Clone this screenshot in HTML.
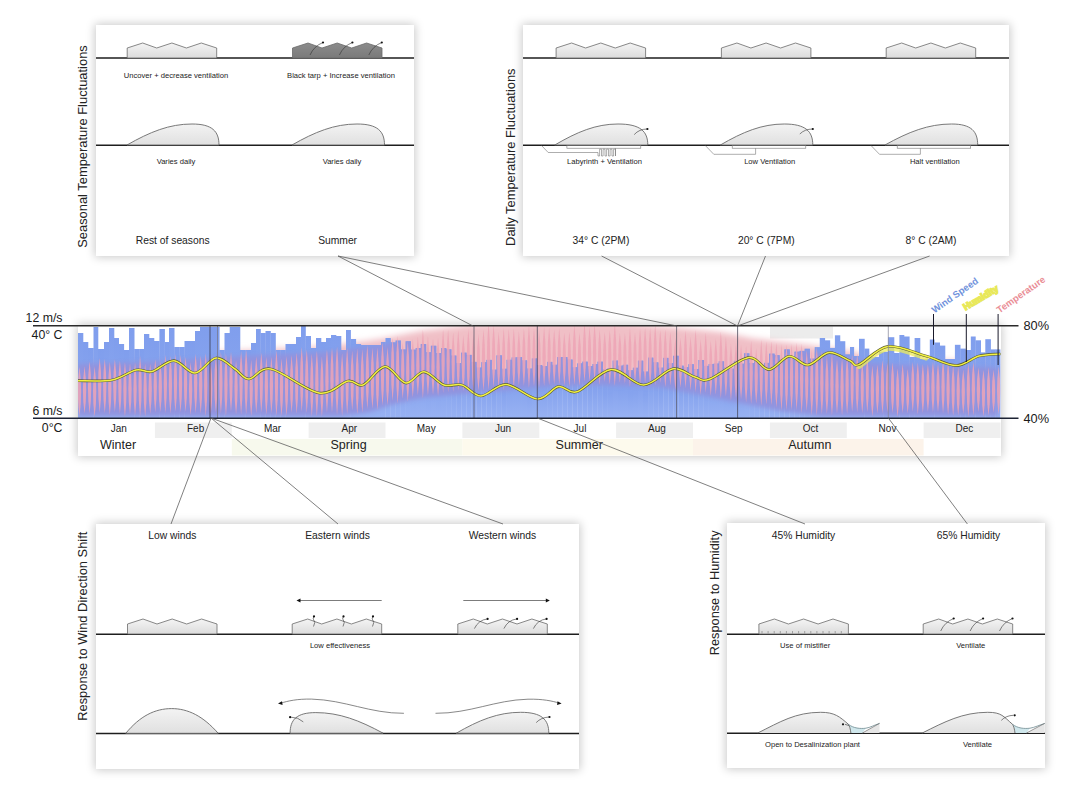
<!DOCTYPE html>
<html><head><meta charset="utf-8"><title>Greenhouse climate response diagram</title>
<style>
html,body{margin:0;padding:0;background:#fff;}
body{width:1081px;height:790px;position:relative;overflow:hidden;font-family:"Liberation Sans", Arial, sans-serif;}
.p{position:absolute;background:#fff;box-shadow:0 0 9px 1px rgba(0,0,0,0.22);}
svg{position:absolute;left:0;top:0;}
svg text{font-family:"Liberation Sans", Arial, sans-serif;}
</style></head><body>
<div class="p" style="left:96px;top:25px;width:318px;height:231px"></div><div class="p" style="left:523px;top:25px;width:486px;height:231px"></div><div class="p" style="left:78px;top:325px;width:923px;height:131px"></div><div class="p" style="left:96px;top:524px;width:483px;height:245px"></div><div class="p" style="left:727px;top:523px;width:318px;height:245px"></div>
<svg width="1081" height="790" viewBox="0 0 1081 790">
<defs>
<linearGradient id="ghl" x1="0" y1="0" x2="0" y2="1"><stop offset="0" stop-color="#f4f4f4"/><stop offset="1" stop-color="#dcdcdc"/></linearGradient>
<linearGradient id="ghd" x1="0" y1="0" x2="0" y2="1"><stop offset="0" stop-color="#8c8c8c"/><stop offset="1" stop-color="#7a7a7a"/></linearGradient>
<linearGradient id="dome" x1="0" y1="0" x2="0" y2="1"><stop offset="0" stop-color="#f3f3f3"/><stop offset="1" stop-color="#e0e0e0"/></linearGradient>
</defs>
<line x1="96" y1="58" x2="414" y2="58" stroke="#1e1e1e" stroke-width="1.5"/>
<path d="M127.2,58.0 L127.2,48.0 L142.7,43.0 L156.7,48.0 L171.9,43.0 L186.4,48.0 L201.3,43.0 L216.7,48.0 L216.7,58.0 Z" fill="url(#ghl)" stroke="#6a6a6a" stroke-width="0.8"/>
<path d="M292.5,58.0 L292.5,48.0 L308.0,43.0 L322.0,48.0 L337.2,43.0 L351.7,48.0 L366.6,43.0 L382.0,48.0 L382.0,58.0 Z" fill="url(#ghd)" stroke="#6a6a6a" stroke-width="0.8"/>
<path d="M310.0,55.0 Q314.0,46.0 323.0,42.5" fill="none" stroke="#333" stroke-width="0.6"/>
<circle cx="323.0" cy="42.5" r="1.1" fill="#111"/>
<path d="M339.4,55.0 Q343.4,46.0 352.4,42.5" fill="none" stroke="#333" stroke-width="0.6"/>
<circle cx="352.4" cy="42.5" r="1.1" fill="#111"/>
<path d="M368.8,55.0 Q372.8,46.0 381.8,42.5" fill="none" stroke="#333" stroke-width="0.6"/>
<circle cx="381.8" cy="42.5" r="1.1" fill="#111"/>
<text x="176.0" y="77.7" font-size="7.6" text-anchor="middle" fill="#222" >Uncover + decrease ventilation</text>
<text x="341.0" y="77.7" font-size="7.6" text-anchor="middle" fill="#222" >Black tarp + Increase ventilation</text>
<line x1="96" y1="145.2" x2="414" y2="145.2" stroke="#1e1e1e" stroke-width="1.5"/>
<path d="M127.0,145 C149.8,132.0 169.2,124.0 192.0,124.0 C212.2,124.0 219.0,131.3 219.0,145 Z" fill="url(#dome)" stroke="#6a6a6a" stroke-width="0.9"/>
<path d="M292.0,145 C314.8,132.0 334.2,124.0 357.0,124.0 C377.6,124.0 384.5,131.3 384.5,145 Z" fill="url(#dome)" stroke="#6a6a6a" stroke-width="0.9"/>
<text x="176.0" y="164.4" font-size="7.6" text-anchor="middle" fill="#222" >Varies daily</text>
<text x="342.0" y="164.4" font-size="7.6" text-anchor="middle" fill="#222" >Varies daily</text>
<text x="172.7" y="244.2" font-size="10.3" text-anchor="middle" fill="#222" >Rest of seasons</text>
<text x="337.6" y="244.2" font-size="10.3" text-anchor="middle" fill="#222" >Summer</text>
<line x1="523" y1="58" x2="1009" y2="58" stroke="#1e1e1e" stroke-width="1.5"/>
<path d="M556.1,58.0 L556.1,48.0 L571.6,43.0 L585.6,48.0 L600.8,43.0 L615.3,48.0 L630.2,43.0 L645.6,48.0 L645.6,58.0 Z" fill="url(#ghl)" stroke="#6a6a6a" stroke-width="0.8"/>
<path d="M721.4,58.0 L721.4,48.0 L736.9,43.0 L750.9,48.0 L766.1,43.0 L780.6,48.0 L795.5,43.0 L810.9,48.0 L810.9,58.0 Z" fill="url(#ghl)" stroke="#6a6a6a" stroke-width="0.8"/>
<path d="M886.2,58.0 L886.2,48.0 L901.7,43.0 L915.7,48.0 L930.9,43.0 L945.4,48.0 L960.3,43.0 L975.7,48.0 L975.7,58.0 Z" fill="url(#ghl)" stroke="#6a6a6a" stroke-width="0.8"/>
<line x1="523" y1="145.2" x2="1009" y2="145.2" stroke="#1e1e1e" stroke-width="1.5"/>
<path d="M554.8,145 C576.9,132.0 595.9,124.0 618.0,124.0 C640.3,124.0 647.8,131.3 647.8,145 Z" fill="url(#dome)" stroke="#6a6a6a" stroke-width="0.9"/>
<path d="M720.4,145 C742.7,132.0 761.9,124.0 784.2,124.0 C805.6,124.0 812.8,131.3 812.8,145 Z" fill="url(#dome)" stroke="#6a6a6a" stroke-width="0.9"/>
<path d="M885.0,145 C908.3,132.0 928.3,124.0 951.6,124.0 C971.2,124.0 977.7,131.3 977.7,145 Z" fill="url(#dome)" stroke="#6a6a6a" stroke-width="0.9"/>
<rect x="566.9" y="145.6" width="73.9" height="2.6" fill="none" stroke="#777" stroke-width="0.6"/>
<path d="M541.6,145.6 L548.2,152.5 L598,152.5 L598,156 L599.6,156 L599.6,149.2 L601.5,149.2 L601.5,156 L603.1,156 L603.1,149.2 L605.0,149.2 L605.0,156 L606.6,156 L606.6,149.2 L608.5,149.2 L608.5,156 L610.1,156 L610.1,149.2 L612.0,149.2 L612.0,156 L613.6,156 L613.6,149.2 L615.5,149.2 L615.5,156 L615.5,148.2" fill="none" stroke="#777" stroke-width="0.6"/>
<rect x="732.2" y="145.6" width="73.6" height="2.6" fill="none" stroke="#777" stroke-width="0.6"/>
<path d="M705.4,145.6 L713.8,154.3 L755.6,154.3 L755.6,148.2" fill="none" stroke="#777" stroke-width="0.6"/>
<rect x="897.2" y="145.6" width="73.5" height="2.6" fill="none" stroke="#777" stroke-width="0.6"/>
<path d="M871.1,145.6 L879.5,154.3 L920.4,154.3 L920.4,148.2" fill="none" stroke="#777" stroke-width="0.6"/>
<path d="M634.2,134.6 Q639.2,129 647.4,129" fill="none" stroke="#333" stroke-width="0.6"/>
<circle cx="647.4" cy="129.0" r="1.1" fill="#111"/>
<path d="M799.8,134 Q804.8,129 812.8,129" fill="none" stroke="#333" stroke-width="0.6"/>
<circle cx="812.8" cy="129.0" r="1.1" fill="#111"/>
<text x="604.5" y="164.4" font-size="7.6" text-anchor="middle" fill="#222" >Labyrinth + Ventilation</text>
<text x="769.7" y="164.4" font-size="7.6" text-anchor="middle" fill="#222" >Low Ventilation</text>
<text x="934.8" y="164.4" font-size="7.6" text-anchor="middle" fill="#222" >Halt ventilation</text>
<text x="601.0" y="243.9" font-size="10.3" text-anchor="middle" fill="#222" >34° C (2PM)</text>
<text x="766.3" y="243.9" font-size="10.3" text-anchor="middle" fill="#222" >20° C (7PM)</text>
<text x="931.0" y="243.9" font-size="10.3" text-anchor="middle" fill="#222" >8° C (2AM)</text>
<text x="172.4" y="538.7" font-size="10.3" text-anchor="middle" fill="#222" >Low winds</text>
<text x="337.5" y="538.7" font-size="10.3" text-anchor="middle" fill="#222" >Eastern winds</text>
<text x="502.5" y="538.7" font-size="10.3" text-anchor="middle" fill="#222" >Western winds</text>
<line x1="96" y1="634.2" x2="579" y2="634.2" stroke="#1e1e1e" stroke-width="1.5"/>
<path d="M127.5,634.0 L127.5,624.0 L143.0,619.0 L157.0,624.0 L172.2,619.0 L186.7,624.0 L201.6,619.0 L217.0,624.0 L217.0,634.0 Z" fill="url(#ghl)" stroke="#6a6a6a" stroke-width="0.8"/>
<path d="M292.2,634.0 L292.2,624.0 L307.7,619.0 L321.7,624.0 L336.9,619.0 L351.4,624.0 L366.3,619.0 L381.7,624.0 L381.7,634.0 Z" fill="url(#ghl)" stroke="#6a6a6a" stroke-width="0.8"/>
<path d="M457.8,634.0 L457.8,624.0 L473.3,619.0 L487.3,624.0 L502.5,619.0 L517.0,624.0 L531.9,619.0 L547.3,624.0 L547.3,634.0 Z" fill="url(#ghl)" stroke="#6a6a6a" stroke-width="0.8"/>
<line x1="381.7" y1="600.5" x2="299" y2="600.5" stroke="#444" stroke-width="0.7"/>
<path d="M296.5,600.5 L300.5,598.6 L300.5,602.4 Z" fill="#111"/>
<path d="M313.5,626.5 Q316,622 313.5,619.5 Q312.5,618 314,616.8" fill="none" stroke="#333" stroke-width="0.6"/>
<circle cx="314.0" cy="616.4" r="1.1" fill="#111"/>
<path d="M343.0,626.5 Q345.5,622 343.0,619.5 Q342.0,618 343.5,616.8" fill="none" stroke="#333" stroke-width="0.6"/>
<circle cx="343.5" cy="616.4" r="1.1" fill="#111"/>
<path d="M372.5,626.5 Q375,622 372.5,619.5 Q371.5,618 373,616.8" fill="none" stroke="#333" stroke-width="0.6"/>
<circle cx="373.0" cy="616.4" r="1.1" fill="#111"/>
<line x1="463.3" y1="600.5" x2="547" y2="600.5" stroke="#444" stroke-width="0.7"/>
<path d="M549.8,600.5 L545.8,598.6 L545.8,602.4 Z" fill="#111"/>
<path d="M474.4,628.6 Q478.4,620 487.6,618.9" fill="none" stroke="#333" stroke-width="0.6"/>
<circle cx="487.6" cy="618.9" r="1.1" fill="#111"/>
<path d="M503.9,628.6 Q507.9,620 517.1,618.9" fill="none" stroke="#333" stroke-width="0.6"/>
<circle cx="517.1" cy="618.9" r="1.1" fill="#111"/>
<path d="M533.4,628.6 Q537.4,620 546.6,618.9" fill="none" stroke="#333" stroke-width="0.6"/>
<circle cx="546.6" cy="618.9" r="1.1" fill="#111"/>
<text x="340.0" y="648.0" font-size="7.6" text-anchor="middle" fill="#222" >Low effectiveness</text>
<line x1="96" y1="733.4" x2="579" y2="733.4" stroke="#1e1e1e" stroke-width="1.5"/>
<path d="M125.8,733.3 C140,716 155,708.6 171.6,708.6 C188,708.6 203,716 218.2,733.3 Z" fill="url(#dome)" stroke="#6a6a6a" stroke-width="0.9"/>
<path d="M383.1,733.2 C359.5,720.4 339.4,712.6 315.8,712.6 C296.5,712.6 290.1,719.8 290.1,733.2 Z" fill="url(#dome)" stroke="#6a6a6a" stroke-width="0.9"/>
<path d="M456.3,733.2 C478.8,720.2 498.1,712.3 520.6,712.3 C541.8,712.3 548.8,719.6 548.8,733.2 Z" fill="url(#dome)" stroke="#6a6a6a" stroke-width="0.9"/>
<path d="M403.9,713.3 C370,713.5 345,700 311.6,699.1 C297,698.8 288,701 280.5,703.2" fill="none" stroke="#555" stroke-width="0.7"/>
<path d="M278,703.4 L282,701.2 L282.6,705.1 Z" fill="#111"/>
<path d="M435.5,713.3 C470,713.5 495,700 528,699.2 C543,698.9 552,701 559,703" fill="none" stroke="#555" stroke-width="0.7"/>
<path d="M561.6,703.6 L557.5,701.3 L557.1,705.1 Z" fill="#111"/>
<path d="M303.3,721.9 Q298,717 291,717.2" fill="none" stroke="#333" stroke-width="0.6"/>
<circle cx="290.1" cy="717.2" r="1.1" fill="#111"/>
<path d="M536.2,722.6 Q541,717.5 549,717" fill="none" stroke="#333" stroke-width="0.6"/>
<circle cx="549.5" cy="717.0" r="1.1" fill="#111"/>
<text x="803.5" y="539.2" font-size="10.3" text-anchor="middle" fill="#222" >45% Humidity</text>
<text x="968.5" y="539.2" font-size="10.3" text-anchor="middle" fill="#222" >65% Humidity</text>
<line x1="727" y1="634.2" x2="1045" y2="634.2" stroke="#1e1e1e" stroke-width="1.5"/>
<path d="M758.9,634.0 L758.9,624.0 L774.4,619.0 L788.4,624.0 L803.6,619.0 L818.1,624.0 L833.0,619.0 L848.4,624.0 L848.4,634.0 Z" fill="url(#ghl)" stroke="#6a6a6a" stroke-width="0.8"/>
<line x1="762.0" y1="631" x2="762.0" y2="633.5" stroke="#777" stroke-width="0.6"/>
<line x1="768.1" y1="631" x2="768.1" y2="633.5" stroke="#777" stroke-width="0.6"/>
<line x1="774.2" y1="631" x2="774.2" y2="633.5" stroke="#777" stroke-width="0.6"/>
<line x1="780.3" y1="631" x2="780.3" y2="633.5" stroke="#777" stroke-width="0.6"/>
<line x1="786.4" y1="631" x2="786.4" y2="633.5" stroke="#777" stroke-width="0.6"/>
<line x1="792.5" y1="631" x2="792.5" y2="633.5" stroke="#777" stroke-width="0.6"/>
<line x1="798.6" y1="631" x2="798.6" y2="633.5" stroke="#777" stroke-width="0.6"/>
<line x1="804.7" y1="631" x2="804.7" y2="633.5" stroke="#777" stroke-width="0.6"/>
<line x1="810.8" y1="631" x2="810.8" y2="633.5" stroke="#777" stroke-width="0.6"/>
<line x1="816.9" y1="631" x2="816.9" y2="633.5" stroke="#777" stroke-width="0.6"/>
<line x1="823.0" y1="631" x2="823.0" y2="633.5" stroke="#777" stroke-width="0.6"/>
<line x1="829.1" y1="631" x2="829.1" y2="633.5" stroke="#777" stroke-width="0.6"/>
<line x1="835.2" y1="631" x2="835.2" y2="633.5" stroke="#777" stroke-width="0.6"/>
<line x1="841.3" y1="631" x2="841.3" y2="633.5" stroke="#777" stroke-width="0.6"/>
<path d="M923.2,634.0 L923.2,624.0 L938.7,619.0 L952.7,624.0 L967.9,619.0 L982.4,624.0 L997.3,619.0 L1012.7,624.0 L1012.7,634.0 Z" fill="url(#ghl)" stroke="#6a6a6a" stroke-width="0.8"/>
<path d="M940.7,631.0 Q944.7,622.0 953.7,618.5" fill="none" stroke="#333" stroke-width="0.6"/>
<circle cx="953.7" cy="618.5" r="1.1" fill="#111"/>
<path d="M970.1,631.0 Q974.1,622.0 983.1,618.5" fill="none" stroke="#333" stroke-width="0.6"/>
<circle cx="983.1" cy="618.5" r="1.1" fill="#111"/>
<path d="M999.5,631.0 Q1003.5,622.0 1012.5,618.5" fill="none" stroke="#333" stroke-width="0.6"/>
<circle cx="1012.5" cy="618.5" r="1.1" fill="#111"/>
<text x="805.2" y="647.7" font-size="7.6" text-anchor="middle" fill="#222" >Use of mistifier</text>
<text x="970.7" y="647.7" font-size="7.6" text-anchor="middle" fill="#222" >Ventilate</text>
<line x1="727" y1="733.2" x2="1045" y2="733.2" stroke="#1e1e1e" stroke-width="1.5"/>
<path d="M862.4,733 L879.5,723.4 L879.5,733 Z" fill="#e6e6e6" stroke="none"/>
<path d="M848.4,724.3 C853.4,728.3 860.4,728.9 865.9,728.2 L862.4,733 L850.9,733 C850.4,729 849.6,726 848.4,724.3 Z" fill="#cfe7ec"/>
<path d="M757.8,733 C779.8,722 795.6,712.3 820.6,712.3 C834.6,712.3 839.4,716.5 848.4,724.3 C849.6,726 850.4,729 850.9,733 Z" fill="url(#dome)" stroke="none"/>
<path d="M757.8,733 C779.8,722 795.6,712.3 820.6,712.3 C834.6,712.3 839.4,716.5 848.4,724.3 C849.6,726 850.4,729 850.9,733" fill="none" stroke="#6a6a6a" stroke-width="0.9"/>
<path d="M848.4,724.3 C853.4,728.3 860.4,728.9 865.9,728.2 C870.4,727.5 874.5,725 879.5,723.4" fill="none" stroke="#6f8a90" stroke-width="0.8"/>
<path d="M862.4,733 L879.5,723.4" fill="none" stroke="#707070" stroke-width="0.7"/>
<path d="M849,725.5 L845,724.4" stroke="#333" stroke-width="0.6"/>
<circle cx="843.0" cy="724.3" r="1.1" fill="#111"/>
<path d="M1026.5,733 L1044.7,723.4 L1044.7,733 Z" fill="#e6e6e6" stroke="none"/>
<path d="M1012.5,724.3 C1017.5,728.3 1024.5,728.9 1030.0,728.2 L1026.5,733 L1015.0,733 C1014.5,729 1013.7,726 1012.5,724.3 Z" fill="#cfe7ec"/>
<path d="M922.3,733 C944.3,722 962.7,712.3 987.7,712.3 C1001.7,712.3 1003.5,716.5 1012.5,724.3 C1013.7,726 1014.5,729 1015.0,733 Z" fill="url(#dome)" stroke="none"/>
<path d="M922.3,733 C944.3,722 962.7,712.3 987.7,712.3 C1001.7,712.3 1003.5,716.5 1012.5,724.3 C1013.7,726 1014.5,729 1015.0,733" fill="none" stroke="#6a6a6a" stroke-width="0.9"/>
<path d="M1012.5,724.3 C1017.5,728.3 1024.5,728.9 1030.0,728.2 C1034.5,727.5 1039.7,725 1044.7,723.4" fill="none" stroke="#6f8a90" stroke-width="0.8"/>
<path d="M1026.5,733 L1044.7,723.4" fill="none" stroke="#707070" stroke-width="0.7"/>
<path d="M1001.3,720.4 Q1006,715.5 1013.5,715.3" fill="none" stroke="#333" stroke-width="0.6"/>
<circle cx="1014.7" cy="715.3" r="1.1" fill="#111"/>
<text x="812.5" y="747.0" font-size="7.6" text-anchor="middle" fill="#222" >Open to Desalinization plant</text>
<text x="977.5" y="747.0" font-size="7.6" text-anchor="middle" fill="#222" >Ventilate</text>
<text transform="translate(87.2,247.8) rotate(-90)" font-size="12.9" fill="#222">Seasonal Temperature Fluctuations</text>
<text transform="translate(515.1,245.9) rotate(-90)" font-size="12.9" fill="#222">Daily Temperature Fluctuations</text>
<text transform="translate(86.7,720.8) rotate(-90)" font-size="12.9" fill="#222">Response to Wind Direction Shift</text>
<text transform="translate(719.3,655.2) rotate(-90)" font-size="12.75" fill="#222">Response to Humidity</text>
<rect x="154.9" y="422.5" width="76.9" height="15.5" fill="#efefef"/>
<rect x="308.6" y="422.5" width="76.9" height="15.5" fill="#efefef"/>
<rect x="462.4" y="422.5" width="76.9" height="15.5" fill="#efefef"/>
<rect x="616.1" y="422.5" width="76.9" height="15.5" fill="#efefef"/>
<rect x="769.9" y="422.5" width="76.9" height="15.5" fill="#efefef"/>
<rect x="923.6" y="422.5" width="76.9" height="15.5" fill="#efefef"/>
<rect x="231.8" y="439" width="230.6" height="16.5" fill="#f7f9ed"/>
<rect x="462.4" y="439" width="230.6" height="16.5" fill="#fdfaed"/>
<rect x="693.0" y="439" width="230.6" height="16.5" fill="#fcf3ea"/>
<text x="118.7" y="431.8" font-size="10" text-anchor="middle" fill="#222" >Jan</text>
<text x="195.6" y="431.8" font-size="10" text-anchor="middle" fill="#222" >Feb</text>
<text x="272.5" y="431.8" font-size="10" text-anchor="middle" fill="#222" >Mar</text>
<text x="349.4" y="431.8" font-size="10" text-anchor="middle" fill="#222" >Apr</text>
<text x="426.2" y="431.8" font-size="10" text-anchor="middle" fill="#222" >May</text>
<text x="503.1" y="431.8" font-size="10" text-anchor="middle" fill="#222" >Jun</text>
<text x="580.0" y="431.8" font-size="10" text-anchor="middle" fill="#222" >Jul</text>
<text x="656.9" y="431.8" font-size="10" text-anchor="middle" fill="#222" >Aug</text>
<text x="733.7" y="431.8" font-size="10" text-anchor="middle" fill="#222" >Sep</text>
<text x="810.6" y="431.8" font-size="10" text-anchor="middle" fill="#222" >Oct</text>
<text x="887.5" y="431.8" font-size="10" text-anchor="middle" fill="#222" >Nov</text>
<text x="964.4" y="431.8" font-size="10" text-anchor="middle" fill="#222" >Dec</text>
<text x="118.0" y="449.2" font-size="12.5" text-anchor="middle" fill="#222" >Winter</text>
<text x="348.6" y="449.2" font-size="12.5" text-anchor="middle" fill="#222" >Spring</text>
<text x="579.2" y="449.2" font-size="12.5" text-anchor="middle" fill="#222" >Summer</text>
<text x="809.8" y="449.2" font-size="12.5" text-anchor="middle" fill="#222" >Autumn</text>
<rect x="770" y="326.5" width="63" height="12" fill="#ececec"/>
<defs><linearGradient id="barg" x1="0" y1="0" x2="0" y2="1"><stop offset="0" stop-color="#809eed"/><stop offset="0.5" stop-color="#86a3ee"/><stop offset="1" stop-color="#98b2f3"/></linearGradient><filter id="blur3" x="-5%" y="-30%" width="110%" height="160%"><feGaussianBlur stdDeviation="3"/></filter><clipPath id="cc"><rect x="78" y="326" width="922.5" height="92"/></clipPath></defs>
<filter id="blur2" x="-5%" y="-30%" width="110%" height="160%"><feGaussianBlur stdDeviation="2.2"/></filter><mask id="band" maskUnits="userSpaceOnUse" x="70" y="300" width="940" height="130"><polygon points="78.0,364.0 83.0,363.9 88.0,363.7 93.0,363.6 98.0,363.4 103.0,363.3 108.0,363.2 113.0,363.0 118.0,362.9 123.0,362.8 128.0,362.6 133.0,362.5 138.0,362.3 143.0,362.2 148.0,362.1 153.0,361.8 158.0,361.5 163.0,361.2 168.0,360.9 173.0,360.6 178.0,360.2 183.0,359.9 188.0,359.6 193.0,359.3 198.0,359.0 203.0,358.7 208.0,358.4 213.0,358.1 218.0,357.8 223.0,357.4 228.0,357.1 233.0,356.9 238.0,356.6 243.0,356.4 248.0,356.1 253.0,355.9 258.0,355.6 263.0,355.4 268.0,355.1 273.0,354.9 278.0,354.6 283.0,354.4 288.0,354.1 293.0,353.9 298.0,353.6 303.0,353.4 308.0,353.1 313.0,352.9 318.0,352.6 323.0,352.4 328.0,352.1 333.0,351.6 338.0,350.9 343.0,350.2 348.0,349.5 353.0,348.8 358.0,348.1 363.0,347.4 368.0,346.7 373.0,346.0 378.0,345.3 383.0,344.4 388.0,343.4 393.0,342.4 398.0,341.4 403.0,340.4 408.0,339.4 413.0,338.4 418.0,337.4 423.0,336.6 428.0,336.0 433.0,335.4 438.0,334.8 443.0,334.2 448.0,333.6 453.0,333.0 458.0,332.4 463.0,331.8 468.0,331.2 473.0,330.9 478.0,330.8 483.0,330.6 488.0,330.5 493.0,330.3 498.0,330.2 503.0,330.1 508.0,329.9 513.0,329.8 518.0,329.6 523.0,329.5 528.0,329.3 533.0,329.2 538.0,329.1 543.0,329.0 548.0,329.0 553.0,329.0 558.0,329.0 563.0,329.0 568.0,329.0 573.0,329.0 578.0,329.0 583.0,329.0 588.0,329.0 593.0,329.0 598.0,329.0 603.0,329.0 608.0,329.0 613.0,329.0 618.0,329.0 623.0,329.2 628.0,329.7 633.0,330.1 638.0,330.5 643.0,330.9 648.0,331.3 653.0,331.8 658.0,332.2 663.0,332.6 668.0,333.0 673.0,333.4 678.0,333.8 683.0,334.3 688.0,334.8 693.0,335.3 698.0,335.8 703.0,336.3 708.0,336.8 713.0,337.3 718.0,337.8 723.0,338.6 728.0,339.6 733.0,340.6 738.0,341.6 743.0,342.6 748.0,343.6 753.0,344.4 758.0,345.0 763.0,345.6 768.0,346.2 773.0,346.8 778.0,347.4 783.0,348.0 788.0,348.6 793.0,349.2 798.0,349.8 803.0,350.4 808.0,351.1 813.0,351.8 818.0,352.5 823.0,353.2 828.0,353.9 833.0,354.6 838.0,355.3 843.0,356.0 848.0,356.7 853.0,357.8 858.0,359.2 863.0,360.6 868.0,362.0 873.0,363.4 878.0,364.1 883.0,364.3 888.0,364.4 893.0,364.6 898.0,364.7 903.0,364.9 908.0,365.1 913.0,365.2 918.0,365.4 923.0,365.5 928.0,365.7 933.0,365.9 938.0,366.0 943.0,366.2 948.0,366.3 953.0,366.5 958.0,366.7 963.0,366.8 968.0,367.0 973.0,367.1 978.0,367.3 983.0,367.5 988.0,367.6 993.0,367.8 998.0,367.9 998.0,416.0 993.0,416.0 988.0,416.0 983.0,416.0 978.0,416.0 973.0,416.0 968.0,416.0 963.0,416.0 958.0,416.0 953.0,416.0 948.0,416.0 943.0,416.0 938.0,416.0 933.0,416.0 928.0,416.0 923.0,416.0 918.0,416.0 913.0,416.0 908.0,416.0 903.0,416.0 898.0,416.0 893.0,416.0 888.0,416.0 883.0,416.0 878.0,416.0 873.0,416.0 868.0,416.0 863.0,416.0 858.0,416.0 853.0,416.0 848.0,416.0 843.0,416.0 838.0,416.0 833.0,416.0 828.0,416.0 823.0,416.0 818.0,415.8 813.0,415.1 808.0,414.5 803.0,413.9 798.0,413.2 793.0,412.6 788.0,412.0 783.0,411.4 778.0,410.6 773.0,409.6 768.0,408.6 763.0,407.6 758.0,406.6 753.0,405.6 748.0,404.6 743.0,403.6 738.0,402.6 733.0,401.6 728.0,400.6 723.0,399.6 718.0,398.6 713.0,397.6 708.0,396.6 703.0,395.6 698.0,394.6 693.0,393.6 688.0,392.6 683.0,391.6 678.0,390.6 673.0,389.6 668.0,388.6 663.0,387.6 658.0,386.9 653.0,386.8 648.0,386.6 643.0,386.4 638.0,386.3 633.0,386.1 628.0,385.9 623.0,385.8 618.0,385.6 613.0,385.4 608.0,385.3 603.0,385.1 598.0,385.1 593.0,385.2 588.0,385.4 583.0,385.6 578.0,385.7 573.0,385.9 568.0,386.1 563.0,386.2 558.0,386.4 553.0,386.6 548.0,386.7 543.0,386.9 538.0,387.2 533.0,387.7 528.0,388.2 523.0,388.7 518.0,389.2 513.0,389.7 508.0,390.2 503.0,390.7 498.0,391.1 493.0,391.5 488.0,391.9 483.0,392.3 478.0,392.6 473.0,393.0 468.0,393.4 463.0,393.8 458.0,394.2 453.0,394.7 448.0,395.2 443.0,395.7 438.0,396.2 433.0,396.7 428.0,397.2 423.0,397.7 418.0,398.5 413.0,399.6 408.0,400.8 403.0,402.0 398.0,403.1 393.0,404.3 388.0,405.7 383.0,407.4 378.0,409.2 373.0,410.9 368.0,412.3 363.0,412.9 358.0,413.6 353.0,414.3 348.0,414.9 343.0,415.6 338.0,416.0 333.0,416.0 328.0,416.0 323.0,416.0 318.0,416.0 313.0,416.0 308.0,416.0 303.0,416.0 298.0,416.0 293.0,416.0 288.0,416.0 283.0,416.0 278.0,416.0 273.0,416.0 268.0,416.0 263.0,416.0 258.0,416.0 253.0,416.0 248.0,416.0 243.0,416.0 238.0,416.0 233.0,416.0 228.0,416.0 223.0,416.0 218.0,416.0 213.0,416.0 208.0,416.0 203.0,416.0 198.0,416.0 193.0,416.0 188.0,416.0 183.0,416.0 178.0,416.0 173.0,416.0 168.0,416.0 163.0,416.0 158.0,416.0 153.0,416.0 148.0,416.0 143.0,416.0 138.0,416.0 133.0,416.0 128.0,416.0 123.0,416.0 118.0,416.0 113.0,416.0 108.0,416.0 103.0,416.0 98.0,416.0 93.0,416.0 88.0,416.0 83.0,416.0 78.0,416.0" fill="#fff" filter="url(#blur2)"/></mask>
<g clip-path="url(#cc)">
<polygon points="78.0,358.0 83.0,357.9 88.0,357.7 93.0,357.6 98.0,357.4 103.0,357.3 108.0,357.2 113.0,357.0 118.0,356.9 123.0,356.8 128.0,356.6 133.0,356.5 138.0,356.3 143.0,356.2 148.0,356.1 153.0,355.8 158.0,355.5 163.0,355.2 168.0,354.9 173.0,354.6 178.0,354.2 183.0,353.9 188.0,353.6 193.0,353.3 198.0,353.0 203.0,352.7 208.0,352.4 213.0,352.1 218.0,351.8 223.0,351.4 228.0,351.1 233.0,350.9 238.0,350.6 243.0,350.4 248.0,350.1 253.0,349.9 258.0,349.6 263.0,349.4 268.0,349.1 273.0,348.9 278.0,348.6 283.0,348.4 288.0,348.1 293.0,347.9 298.0,347.6 303.0,347.4 308.0,347.1 313.0,346.9 318.0,346.6 323.0,346.4 328.0,346.1 333.0,345.6 338.0,344.9 343.0,344.2 348.0,343.5 353.0,342.8 358.0,342.1 363.0,341.4 368.0,340.7 373.0,340.0 378.0,339.3 383.0,338.4 388.0,337.4 393.0,336.4 398.0,335.4 403.0,334.4 408.0,333.4 413.0,332.4 418.0,331.4 423.0,330.6 428.0,330.0 433.0,329.4 438.0,328.8 443.0,328.2 448.0,327.6 453.0,327.0 458.0,326.4 463.0,325.8 468.0,325.2 473.0,324.9 478.0,324.8 483.0,324.6 488.0,324.5 493.0,324.3 498.0,324.2 503.0,324.1 508.0,323.9 513.0,323.8 518.0,323.6 523.0,323.5 528.0,323.3 533.0,323.2 538.0,323.1 543.0,323.0 548.0,323.0 553.0,323.0 558.0,323.0 563.0,323.0 568.0,323.0 573.0,323.0 578.0,323.0 583.0,323.0 588.0,323.0 593.0,323.0 598.0,323.0 603.0,323.0 608.0,323.0 613.0,323.0 618.0,323.0 623.0,323.2 628.0,323.7 633.0,324.1 638.0,324.5 643.0,324.9 648.0,325.3 653.0,325.8 658.0,326.2 663.0,326.6 668.0,327.0 673.0,327.4 678.0,327.8 683.0,328.3 688.0,328.8 693.0,329.3 698.0,329.8 703.0,330.3 708.0,330.8 713.0,331.3 718.0,331.8 723.0,332.6 728.0,333.6 733.0,334.6 738.0,335.6 743.0,336.6 748.0,337.6 753.0,338.4 758.0,339.0 763.0,339.6 768.0,340.2 773.0,340.8 778.0,341.4 783.0,342.0 788.0,342.6 793.0,343.2 798.0,343.8 803.0,344.4 808.0,345.1 813.0,345.8 818.0,346.5 823.0,347.2 828.0,347.9 833.0,348.6 838.0,349.3 843.0,350.0 848.0,350.7 853.0,351.8 858.0,353.2 863.0,354.6 868.0,356.0 873.0,357.4 878.0,358.1 883.0,358.3 888.0,358.4 893.0,358.6 898.0,358.7 903.0,358.9 908.0,359.1 913.0,359.2 918.0,359.4 923.0,359.5 928.0,359.7 933.0,359.9 938.0,360.0 943.0,360.2 948.0,360.3 953.0,360.5 958.0,360.7 963.0,360.8 968.0,361.0 973.0,361.1 978.0,361.3 983.0,361.5 988.0,361.6 993.0,361.8 998.0,361.9 998.0,413.0 993.0,413.0 988.0,413.0 983.0,413.0 978.0,413.0 973.0,413.0 968.0,413.0 963.0,413.0 958.0,413.0 953.0,413.0 948.0,413.0 943.0,413.0 938.0,413.0 933.0,413.0 928.0,413.0 923.0,413.0 918.0,413.0 913.0,413.0 908.0,413.0 903.0,413.0 898.0,413.0 893.0,413.0 888.0,413.0 883.0,413.0 878.0,413.0 873.0,413.0 868.0,413.0 863.0,413.0 858.0,413.0 853.0,413.0 848.0,413.0 843.0,413.0 838.0,413.0 833.0,413.0 828.0,413.0 823.0,413.0 818.0,412.8 813.0,412.1 808.0,411.5 803.0,410.9 798.0,410.2 793.0,409.6 788.0,409.0 783.0,408.4 778.0,407.6 773.0,406.6 768.0,405.6 763.0,404.6 758.0,403.6 753.0,402.6 748.0,401.6 743.0,400.6 738.0,399.6 733.0,398.6 728.0,397.6 723.0,396.6 718.0,395.6 713.0,394.6 708.0,393.6 703.0,392.6 698.0,391.6 693.0,390.6 688.0,389.6 683.0,388.6 678.0,387.6 673.0,386.6 668.0,385.6 663.0,384.6 658.0,383.9 653.0,383.8 648.0,383.6 643.0,383.4 638.0,383.3 633.0,383.1 628.0,382.9 623.0,382.8 618.0,382.6 613.0,382.4 608.0,382.3 603.0,382.1 598.0,382.1 593.0,382.2 588.0,382.4 583.0,382.6 578.0,382.7 573.0,382.9 568.0,383.1 563.0,383.2 558.0,383.4 553.0,383.6 548.0,383.7 543.0,383.9 538.0,384.2 533.0,384.7 528.0,385.2 523.0,385.7 518.0,386.2 513.0,386.7 508.0,387.2 503.0,387.7 498.0,388.1 493.0,388.5 488.0,388.9 483.0,389.3 478.0,389.6 473.0,390.0 468.0,390.4 463.0,390.8 458.0,391.2 453.0,391.7 448.0,392.2 443.0,392.7 438.0,393.2 433.0,393.7 428.0,394.2 423.0,394.7 418.0,395.5 413.0,396.6 408.0,397.8 403.0,399.0 398.0,400.1 393.0,401.3 388.0,402.7 383.0,404.4 378.0,406.2 373.0,407.9 368.0,409.3 363.0,409.9 358.0,410.6 353.0,411.3 348.0,411.9 343.0,412.6 338.0,413.0 333.0,413.0 328.0,413.0 323.0,413.0 318.0,413.0 313.0,413.0 308.0,413.0 303.0,413.0 298.0,413.0 293.0,413.0 288.0,413.0 283.0,413.0 278.0,413.0 273.0,413.0 268.0,413.0 263.0,413.0 258.0,413.0 253.0,413.0 248.0,413.0 243.0,413.0 238.0,413.0 233.0,413.0 228.0,413.0 223.0,413.0 218.0,413.0 213.0,413.0 208.0,413.0 203.0,413.0 198.0,413.0 193.0,413.0 188.0,413.0 183.0,413.0 178.0,413.0 173.0,413.0 168.0,413.0 163.0,413.0 158.0,413.0 153.0,413.0 148.0,413.0 143.0,413.0 138.0,413.0 133.0,413.0 128.0,413.0 123.0,413.0 118.0,413.0 113.0,413.0 108.0,413.0 103.0,413.0 98.0,413.0 93.0,413.0 88.0,413.0 83.0,413.0 78.0,413.0" fill="#f0bfc6" opacity="1" filter="url(#blur3)"/>
<g fill="url(#barg)"><rect x="78.00" y="333.0" width="5.30" height="85.0"/><rect x="83.00" y="342.0" width="5.30" height="76.0"/><rect x="88.00" y="348.0" width="5.80" height="70.0"/><rect x="93.50" y="327.0" width="4.80" height="91.0"/><rect x="98.00" y="349.0" width="6.30" height="69.0"/><rect x="104.00" y="342.0" width="5.30" height="76.0"/><rect x="109.00" y="328.0" width="5.30" height="90.0"/><rect x="114.00" y="338.0" width="5.00" height="80.0"/><rect x="118.70" y="344.0" width="5.40" height="74.0"/><rect x="123.80" y="350.0" width="5.50" height="68.0"/><rect x="129.00" y="328.0" width="5.50" height="90.0"/><rect x="134.20" y="349.0" width="5.30" height="69.0"/><rect x="139.20" y="349.0" width="5.10" height="69.0"/><rect x="144.00" y="334.0" width="5.30" height="84.0"/><rect x="149.00" y="338.0" width="5.30" height="80.0"/><rect x="154.00" y="341.0" width="5.70" height="77.0"/><rect x="159.40" y="329.0" width="5.50" height="89.0"/><rect x="164.60" y="342.0" width="4.70" height="76.0"/><rect x="169.00" y="328.0" width="5.50" height="90.0"/><rect x="174.20" y="347.0" width="5.40" height="71.0"/><rect x="179.30" y="347.0" width="5.50" height="71.0"/><rect x="184.50" y="341.0" width="5.50" height="77.0"/><rect x="189.70" y="341.0" width="5.60" height="77.0"/><rect x="195.00" y="331.0" width="5.30" height="87.0"/><rect x="200.00" y="327.0" width="5.30" height="91.0"/><rect x="205.00" y="327.0" width="5.00" height="91.0"/><rect x="209.70" y="327.0" width="4.60" height="91.0"/><rect x="214.00" y="327.0" width="5.60" height="91.0"/><rect x="219.30" y="350.0" width="5.50" height="68.0"/><rect x="224.50" y="333.0" width="5.50" height="85.0"/><rect x="229.70" y="327.0" width="5.60" height="91.0"/><rect x="235.00" y="327.0" width="5.30" height="91.0"/><rect x="240.00" y="350.0" width="5.80" height="68.0"/><rect x="245.50" y="350.0" width="5.80" height="68.0"/><rect x="251.00" y="343.0" width="5.30" height="75.0"/><rect x="256.00" y="329.0" width="4.80" height="89.0"/><rect x="260.50" y="333.0" width="5.30" height="85.0"/><rect x="265.50" y="331.0" width="5.30" height="87.0"/><rect x="270.50" y="333.0" width="5.30" height="85.0"/><rect x="275.50" y="350.0" width="5.30" height="68.0"/><rect x="280.50" y="350.0" width="5.30" height="68.0"/><rect x="285.50" y="344.0" width="5.80" height="74.0"/><rect x="291.00" y="344.0" width="5.30" height="74.0"/><rect x="296.00" y="337.0" width="5.30" height="81.0"/><rect x="301.00" y="325.0" width="4.80" height="93.0"/><rect x="305.50" y="336.0" width="5.50" height="82.0"/><rect x="310.70" y="348.0" width="5.60" height="70.0"/><rect x="316.00" y="338.0" width="5.30" height="80.0"/><rect x="321.00" y="342.0" width="5.30" height="76.0"/><rect x="326.00" y="338.0" width="5.30" height="80.0"/><rect x="331.00" y="335.0" width="5.30" height="83.0"/><rect x="336.00" y="336.0" width="5.30" height="82.0"/><rect x="341.00" y="350.0" width="5.30" height="68.0"/><rect x="346.00" y="330.0" width="4.90" height="88.0"/><rect x="350.60" y="339.0" width="5.50" height="79.0"/><rect x="355.80" y="344.0" width="5.30" height="74.0"/><rect x="360.80" y="345.0" width="5.50" height="73.0"/><rect x="366.00" y="345.0" width="5.30" height="73.0"/><rect x="371.00" y="345.0" width="5.30" height="73.0"/><rect x="376.00" y="345.0" width="5.30" height="73.0"/><rect x="381.00" y="342.0" width="4.80" height="76.0"/><rect x="385.50" y="338.0" width="5.30" height="80.0"/><rect x="390.50" y="342.3" width="5.35" height="75.7"/><rect x="395.55" y="340.5" width="5.35" height="77.5"/><rect x="400.60" y="349.5" width="5.35" height="68.5"/><rect x="405.65" y="341.3" width="5.35" height="76.7"/><rect x="410.70" y="349.7" width="5.35" height="68.3"/><rect x="415.75" y="348.0" width="5.35" height="70.0"/><rect x="420.80" y="344.1" width="5.35" height="73.9"/><rect x="425.85" y="352.3" width="5.35" height="65.7"/><rect x="430.90" y="345.8" width="5.35" height="72.2"/><rect x="435.95" y="353.0" width="5.35" height="65.0"/><rect x="441.00" y="348.1" width="5.35" height="69.9"/><rect x="446.05" y="349.4" width="5.35" height="68.6"/><rect x="451.10" y="355.6" width="5.35" height="62.4"/><rect x="456.15" y="363.0" width="5.35" height="55.0"/><rect x="461.20" y="352.7" width="5.35" height="65.3"/><rect x="466.25" y="354.9" width="5.35" height="63.1"/><rect x="471.30" y="361.9" width="5.35" height="56.1"/><rect x="476.35" y="367.6" width="5.35" height="50.4"/><rect x="481.40" y="362.2" width="5.35" height="55.8"/><rect x="486.45" y="359.9" width="5.35" height="58.1"/><rect x="491.50" y="369.7" width="5.35" height="48.3"/><rect x="496.55" y="355.4" width="5.35" height="62.6"/><rect x="501.60" y="368.8" width="5.35" height="49.2"/><rect x="506.65" y="359.8" width="5.35" height="58.2"/><rect x="511.70" y="357.5" width="5.35" height="60.5"/><rect x="516.75" y="357.2" width="5.35" height="60.8"/><rect x="521.80" y="360.4" width="5.35" height="57.6"/><rect x="526.85" y="368.6" width="5.35" height="49.4"/><rect x="531.90" y="358.5" width="5.35" height="59.5"/><rect x="536.95" y="365.0" width="5.35" height="53.0"/><rect x="542.00" y="366.1" width="5.35" height="51.9"/><rect x="547.05" y="361.9" width="5.35" height="56.1"/><rect x="552.10" y="364.8" width="5.35" height="53.2"/><rect x="557.15" y="357.1" width="5.35" height="60.9"/><rect x="562.20" y="357.2" width="5.35" height="60.8"/><rect x="567.25" y="359.6" width="5.35" height="58.4"/><rect x="572.30" y="367.3" width="5.35" height="50.7"/><rect x="577.35" y="363.4" width="5.35" height="54.6"/><rect x="582.40" y="361.7" width="5.35" height="56.3"/><rect x="587.45" y="366.1" width="5.35" height="51.9"/><rect x="592.50" y="364.1" width="5.35" height="53.9"/><rect x="597.55" y="361.7" width="5.35" height="56.3"/><rect x="602.60" y="369.6" width="5.35" height="48.4"/><rect x="607.65" y="368.0" width="5.35" height="50.0"/><rect x="612.70" y="360.6" width="5.35" height="57.4"/><rect x="617.75" y="365.7" width="5.35" height="52.3"/><rect x="622.80" y="364.8" width="5.35" height="53.2"/><rect x="627.85" y="370.3" width="5.35" height="47.7"/><rect x="632.90" y="367.8" width="5.35" height="50.2"/><rect x="637.95" y="360.7" width="5.35" height="57.3"/><rect x="643.00" y="371.6" width="5.35" height="46.4"/><rect x="648.05" y="357.7" width="5.35" height="60.3"/><rect x="653.10" y="362.4" width="5.35" height="55.6"/><rect x="658.15" y="367.7" width="5.35" height="50.3"/><rect x="663.20" y="357.9" width="5.35" height="60.1"/><rect x="668.25" y="363.1" width="5.35" height="54.9"/><rect x="673.30" y="355.8" width="5.35" height="62.2"/><rect x="678.35" y="365.7" width="5.35" height="52.3"/><rect x="683.40" y="367.2" width="5.35" height="50.8"/><rect x="688.45" y="364.2" width="5.35" height="53.8"/><rect x="693.50" y="369.0" width="5.35" height="49.0"/><rect x="698.55" y="360.0" width="5.35" height="58.0"/><rect x="703.60" y="365.9" width="5.35" height="52.1"/><rect x="708.65" y="364.1" width="5.35" height="53.9"/><rect x="713.70" y="363.6" width="5.35" height="54.4"/><rect x="718.75" y="361.4" width="5.35" height="56.6"/><rect x="723.80" y="367.2" width="5.35" height="50.8"/><rect x="728.85" y="368.7" width="5.35" height="49.3"/><rect x="733.90" y="360.9" width="5.35" height="57.1"/><rect x="738.95" y="363.7" width="5.35" height="54.3"/><rect x="744.00" y="353.4" width="5.35" height="64.6"/><rect x="749.05" y="363.0" width="5.35" height="55.0"/><rect x="754.10" y="361.5" width="5.35" height="56.5"/><rect x="759.15" y="366.3" width="5.35" height="51.7"/><rect x="764.20" y="362.9" width="5.35" height="55.1"/><rect x="769.25" y="353.7" width="5.35" height="64.3"/><rect x="774.30" y="355.2" width="5.35" height="62.8"/><rect x="779.35" y="359.7" width="5.35" height="58.3"/><rect x="784.40" y="349.4" width="5.35" height="68.6"/><rect x="789.45" y="356.4" width="5.35" height="61.6"/><rect x="794.50" y="351.7" width="5.35" height="66.3"/><rect x="799.55" y="350.9" width="5.35" height="67.1"/><rect x="804.60" y="348.7" width="5.35" height="69.3"/><rect x="809.65" y="358.7" width="5.35" height="59.3"/><rect x="814.70" y="347.1" width="5.35" height="70.9"/><rect x="819.75" y="338.0" width="5.35" height="80.0"/><rect x="824.80" y="340.3" width="5.35" height="77.7"/><rect x="829.85" y="347.9" width="5.35" height="70.1"/><rect x="834.90" y="335.3" width="5.35" height="82.7"/><rect x="839.95" y="341.2" width="5.35" height="76.8"/><rect x="845.00" y="354.3" width="5.30" height="63.7"/><rect x="850.00" y="347.0" width="4.10" height="71.0"/><rect x="853.80" y="356.0" width="5.50" height="62.0"/><rect x="859.00" y="338.8" width="5.70" height="79.2"/><rect x="864.40" y="348.6" width="4.90" height="69.4"/><rect x="869.00" y="357.0" width="5.30" height="61.0"/><rect x="874.00" y="357.0" width="5.30" height="61.0"/><rect x="879.00" y="351.7" width="4.80" height="66.3"/><rect x="883.50" y="351.7" width="4.80" height="66.3"/><rect x="888.00" y="337.2" width="6.30" height="80.8"/><rect x="894.00" y="353.0" width="5.70" height="65.0"/><rect x="899.40" y="335.0" width="4.90" height="83.0"/><rect x="904.00" y="336.5" width="5.60" height="81.5"/><rect x="909.30" y="357.0" width="5.60" height="61.0"/><rect x="914.60" y="338.0" width="5.70" height="80.0"/><rect x="920.00" y="359.0" width="5.30" height="59.0"/><rect x="925.00" y="359.0" width="5.10" height="59.0"/><rect x="929.80" y="339.5" width="4.80" height="78.5"/><rect x="934.30" y="342.5" width="5.70" height="75.5"/><rect x="939.70" y="345.6" width="5.60" height="72.4"/><rect x="945.00" y="359.0" width="5.30" height="59.0"/><rect x="950.00" y="359.0" width="5.20" height="59.0"/><rect x="954.90" y="344.8" width="5.60" height="73.2"/><rect x="960.20" y="348.6" width="5.60" height="69.4"/><rect x="965.50" y="350.0" width="5.60" height="68.0"/><rect x="970.80" y="336.5" width="4.90" height="81.5"/><rect x="975.40" y="340.3" width="5.60" height="77.7"/><rect x="980.70" y="352.4" width="4.90" height="65.6"/><rect x="985.30" y="339.2" width="5.60" height="78.8"/><rect x="990.60" y="349.4" width="5.20" height="68.6"/><rect x="995.50" y="349.4" width="5.30" height="68.6"/></g>
<g fill="#9193de" mask="url(#band)"><rect x="78.00" y="333.0" width="5.30" height="85.0"/><rect x="83.00" y="342.0" width="5.30" height="76.0"/><rect x="88.00" y="348.0" width="5.80" height="70.0"/><rect x="93.50" y="327.0" width="4.80" height="91.0"/><rect x="98.00" y="349.0" width="6.30" height="69.0"/><rect x="104.00" y="342.0" width="5.30" height="76.0"/><rect x="109.00" y="328.0" width="5.30" height="90.0"/><rect x="114.00" y="338.0" width="5.00" height="80.0"/><rect x="118.70" y="344.0" width="5.40" height="74.0"/><rect x="123.80" y="350.0" width="5.50" height="68.0"/><rect x="129.00" y="328.0" width="5.50" height="90.0"/><rect x="134.20" y="349.0" width="5.30" height="69.0"/><rect x="139.20" y="349.0" width="5.10" height="69.0"/><rect x="144.00" y="334.0" width="5.30" height="84.0"/><rect x="149.00" y="338.0" width="5.30" height="80.0"/><rect x="154.00" y="341.0" width="5.70" height="77.0"/><rect x="159.40" y="329.0" width="5.50" height="89.0"/><rect x="164.60" y="342.0" width="4.70" height="76.0"/><rect x="169.00" y="328.0" width="5.50" height="90.0"/><rect x="174.20" y="347.0" width="5.40" height="71.0"/><rect x="179.30" y="347.0" width="5.50" height="71.0"/><rect x="184.50" y="341.0" width="5.50" height="77.0"/><rect x="189.70" y="341.0" width="5.60" height="77.0"/><rect x="195.00" y="331.0" width="5.30" height="87.0"/><rect x="200.00" y="327.0" width="5.30" height="91.0"/><rect x="205.00" y="327.0" width="5.00" height="91.0"/><rect x="209.70" y="327.0" width="4.60" height="91.0"/><rect x="214.00" y="327.0" width="5.60" height="91.0"/><rect x="219.30" y="350.0" width="5.50" height="68.0"/><rect x="224.50" y="333.0" width="5.50" height="85.0"/><rect x="229.70" y="327.0" width="5.60" height="91.0"/><rect x="235.00" y="327.0" width="5.30" height="91.0"/><rect x="240.00" y="350.0" width="5.80" height="68.0"/><rect x="245.50" y="350.0" width="5.80" height="68.0"/><rect x="251.00" y="343.0" width="5.30" height="75.0"/><rect x="256.00" y="329.0" width="4.80" height="89.0"/><rect x="260.50" y="333.0" width="5.30" height="85.0"/><rect x="265.50" y="331.0" width="5.30" height="87.0"/><rect x="270.50" y="333.0" width="5.30" height="85.0"/><rect x="275.50" y="350.0" width="5.30" height="68.0"/><rect x="280.50" y="350.0" width="5.30" height="68.0"/><rect x="285.50" y="344.0" width="5.80" height="74.0"/><rect x="291.00" y="344.0" width="5.30" height="74.0"/><rect x="296.00" y="337.0" width="5.30" height="81.0"/><rect x="301.00" y="325.0" width="4.80" height="93.0"/><rect x="305.50" y="336.0" width="5.50" height="82.0"/><rect x="310.70" y="348.0" width="5.60" height="70.0"/><rect x="316.00" y="338.0" width="5.30" height="80.0"/><rect x="321.00" y="342.0" width="5.30" height="76.0"/><rect x="326.00" y="338.0" width="5.30" height="80.0"/><rect x="331.00" y="335.0" width="5.30" height="83.0"/><rect x="336.00" y="336.0" width="5.30" height="82.0"/><rect x="341.00" y="350.0" width="5.30" height="68.0"/><rect x="346.00" y="330.0" width="4.90" height="88.0"/><rect x="350.60" y="339.0" width="5.50" height="79.0"/><rect x="355.80" y="344.0" width="5.30" height="74.0"/><rect x="360.80" y="345.0" width="5.50" height="73.0"/><rect x="366.00" y="345.0" width="5.30" height="73.0"/><rect x="371.00" y="345.0" width="5.30" height="73.0"/><rect x="376.00" y="345.0" width="5.30" height="73.0"/><rect x="381.00" y="342.0" width="4.80" height="76.0"/><rect x="385.50" y="338.0" width="5.30" height="80.0"/><rect x="390.50" y="342.3" width="5.35" height="75.7"/><rect x="395.55" y="340.5" width="5.35" height="77.5"/><rect x="400.60" y="349.5" width="5.35" height="68.5"/><rect x="405.65" y="341.3" width="5.35" height="76.7"/><rect x="410.70" y="349.7" width="5.35" height="68.3"/><rect x="415.75" y="348.0" width="5.35" height="70.0"/><rect x="420.80" y="344.1" width="5.35" height="73.9"/><rect x="425.85" y="352.3" width="5.35" height="65.7"/><rect x="430.90" y="345.8" width="5.35" height="72.2"/><rect x="435.95" y="353.0" width="5.35" height="65.0"/><rect x="441.00" y="348.1" width="5.35" height="69.9"/><rect x="446.05" y="349.4" width="5.35" height="68.6"/><rect x="451.10" y="355.6" width="5.35" height="62.4"/><rect x="456.15" y="363.0" width="5.35" height="55.0"/><rect x="461.20" y="352.7" width="5.35" height="65.3"/><rect x="466.25" y="354.9" width="5.35" height="63.1"/><rect x="471.30" y="361.9" width="5.35" height="56.1"/><rect x="476.35" y="367.6" width="5.35" height="50.4"/><rect x="481.40" y="362.2" width="5.35" height="55.8"/><rect x="486.45" y="359.9" width="5.35" height="58.1"/><rect x="491.50" y="369.7" width="5.35" height="48.3"/><rect x="496.55" y="355.4" width="5.35" height="62.6"/><rect x="501.60" y="368.8" width="5.35" height="49.2"/><rect x="506.65" y="359.8" width="5.35" height="58.2"/><rect x="511.70" y="357.5" width="5.35" height="60.5"/><rect x="516.75" y="357.2" width="5.35" height="60.8"/><rect x="521.80" y="360.4" width="5.35" height="57.6"/><rect x="526.85" y="368.6" width="5.35" height="49.4"/><rect x="531.90" y="358.5" width="5.35" height="59.5"/><rect x="536.95" y="365.0" width="5.35" height="53.0"/><rect x="542.00" y="366.1" width="5.35" height="51.9"/><rect x="547.05" y="361.9" width="5.35" height="56.1"/><rect x="552.10" y="364.8" width="5.35" height="53.2"/><rect x="557.15" y="357.1" width="5.35" height="60.9"/><rect x="562.20" y="357.2" width="5.35" height="60.8"/><rect x="567.25" y="359.6" width="5.35" height="58.4"/><rect x="572.30" y="367.3" width="5.35" height="50.7"/><rect x="577.35" y="363.4" width="5.35" height="54.6"/><rect x="582.40" y="361.7" width="5.35" height="56.3"/><rect x="587.45" y="366.1" width="5.35" height="51.9"/><rect x="592.50" y="364.1" width="5.35" height="53.9"/><rect x="597.55" y="361.7" width="5.35" height="56.3"/><rect x="602.60" y="369.6" width="5.35" height="48.4"/><rect x="607.65" y="368.0" width="5.35" height="50.0"/><rect x="612.70" y="360.6" width="5.35" height="57.4"/><rect x="617.75" y="365.7" width="5.35" height="52.3"/><rect x="622.80" y="364.8" width="5.35" height="53.2"/><rect x="627.85" y="370.3" width="5.35" height="47.7"/><rect x="632.90" y="367.8" width="5.35" height="50.2"/><rect x="637.95" y="360.7" width="5.35" height="57.3"/><rect x="643.00" y="371.6" width="5.35" height="46.4"/><rect x="648.05" y="357.7" width="5.35" height="60.3"/><rect x="653.10" y="362.4" width="5.35" height="55.6"/><rect x="658.15" y="367.7" width="5.35" height="50.3"/><rect x="663.20" y="357.9" width="5.35" height="60.1"/><rect x="668.25" y="363.1" width="5.35" height="54.9"/><rect x="673.30" y="355.8" width="5.35" height="62.2"/><rect x="678.35" y="365.7" width="5.35" height="52.3"/><rect x="683.40" y="367.2" width="5.35" height="50.8"/><rect x="688.45" y="364.2" width="5.35" height="53.8"/><rect x="693.50" y="369.0" width="5.35" height="49.0"/><rect x="698.55" y="360.0" width="5.35" height="58.0"/><rect x="703.60" y="365.9" width="5.35" height="52.1"/><rect x="708.65" y="364.1" width="5.35" height="53.9"/><rect x="713.70" y="363.6" width="5.35" height="54.4"/><rect x="718.75" y="361.4" width="5.35" height="56.6"/><rect x="723.80" y="367.2" width="5.35" height="50.8"/><rect x="728.85" y="368.7" width="5.35" height="49.3"/><rect x="733.90" y="360.9" width="5.35" height="57.1"/><rect x="738.95" y="363.7" width="5.35" height="54.3"/><rect x="744.00" y="353.4" width="5.35" height="64.6"/><rect x="749.05" y="363.0" width="5.35" height="55.0"/><rect x="754.10" y="361.5" width="5.35" height="56.5"/><rect x="759.15" y="366.3" width="5.35" height="51.7"/><rect x="764.20" y="362.9" width="5.35" height="55.1"/><rect x="769.25" y="353.7" width="5.35" height="64.3"/><rect x="774.30" y="355.2" width="5.35" height="62.8"/><rect x="779.35" y="359.7" width="5.35" height="58.3"/><rect x="784.40" y="349.4" width="5.35" height="68.6"/><rect x="789.45" y="356.4" width="5.35" height="61.6"/><rect x="794.50" y="351.7" width="5.35" height="66.3"/><rect x="799.55" y="350.9" width="5.35" height="67.1"/><rect x="804.60" y="348.7" width="5.35" height="69.3"/><rect x="809.65" y="358.7" width="5.35" height="59.3"/><rect x="814.70" y="347.1" width="5.35" height="70.9"/><rect x="819.75" y="338.0" width="5.35" height="80.0"/><rect x="824.80" y="340.3" width="5.35" height="77.7"/><rect x="829.85" y="347.9" width="5.35" height="70.1"/><rect x="834.90" y="335.3" width="5.35" height="82.7"/><rect x="839.95" y="341.2" width="5.35" height="76.8"/><rect x="845.00" y="354.3" width="5.30" height="63.7"/><rect x="850.00" y="347.0" width="4.10" height="71.0"/><rect x="853.80" y="356.0" width="5.50" height="62.0"/><rect x="859.00" y="338.8" width="5.70" height="79.2"/><rect x="864.40" y="348.6" width="4.90" height="69.4"/><rect x="869.00" y="357.0" width="5.30" height="61.0"/><rect x="874.00" y="357.0" width="5.30" height="61.0"/><rect x="879.00" y="351.7" width="4.80" height="66.3"/><rect x="883.50" y="351.7" width="4.80" height="66.3"/><rect x="888.00" y="337.2" width="6.30" height="80.8"/><rect x="894.00" y="353.0" width="5.70" height="65.0"/><rect x="899.40" y="335.0" width="4.90" height="83.0"/><rect x="904.00" y="336.5" width="5.60" height="81.5"/><rect x="909.30" y="357.0" width="5.60" height="61.0"/><rect x="914.60" y="338.0" width="5.70" height="80.0"/><rect x="920.00" y="359.0" width="5.30" height="59.0"/><rect x="925.00" y="359.0" width="5.10" height="59.0"/><rect x="929.80" y="339.5" width="4.80" height="78.5"/><rect x="934.30" y="342.5" width="5.70" height="75.5"/><rect x="939.70" y="345.6" width="5.60" height="72.4"/><rect x="945.00" y="359.0" width="5.30" height="59.0"/><rect x="950.00" y="359.0" width="5.20" height="59.0"/><rect x="954.90" y="344.8" width="5.60" height="73.2"/><rect x="960.20" y="348.6" width="5.60" height="69.4"/><rect x="965.50" y="350.0" width="5.60" height="68.0"/><rect x="970.80" y="336.5" width="4.90" height="81.5"/><rect x="975.40" y="340.3" width="5.60" height="77.7"/><rect x="980.70" y="352.4" width="4.90" height="65.6"/><rect x="985.30" y="339.2" width="5.60" height="78.8"/><rect x="990.60" y="349.4" width="5.20" height="68.6"/><rect x="995.50" y="349.4" width="5.30" height="68.6"/></g>
<g fill="#eea4b6" fill-opacity="0.86"><path d="M79.50,366.7 Q82.80,391.4 79.50,416.1 Q76.20,391.4 79.50,366.7Z"/><path d="M84.55,366.3 Q87.85,389.9 84.55,413.4 Q81.25,389.9 84.55,366.3Z"/><path d="M89.60,361.2 Q92.90,387.5 89.60,413.8 Q86.30,387.5 89.60,361.2Z"/><path d="M94.65,366.3 Q97.95,391.5 94.65,416.8 Q91.35,391.5 94.65,366.3Z"/><path d="M99.70,358.1 Q103.00,385.5 99.70,412.9 Q96.40,385.5 99.70,358.1Z"/><path d="M104.75,358.8 Q108.05,386.0 104.75,413.2 Q101.45,386.0 104.75,358.8Z"/><path d="M109.80,361.5 Q113.10,388.2 109.80,414.9 Q106.50,388.2 109.80,361.5Z"/><path d="M114.85,358.9 Q118.15,385.4 114.85,412.0 Q111.55,385.4 114.85,358.9Z"/><path d="M119.90,360.4 Q123.20,387.1 119.90,413.8 Q116.60,387.1 119.90,360.4Z"/><path d="M124.95,361.9 Q128.25,389.3 124.95,416.8 Q121.65,389.3 124.95,361.9Z"/><path d="M130.00,363.2 Q133.30,388.9 130.00,414.6 Q126.70,388.9 130.00,363.2Z"/><path d="M135.05,362.2 Q138.35,388.8 135.05,415.4 Q131.75,388.8 135.05,362.2Z"/><path d="M140.10,355.9 Q143.40,386.2 140.10,416.5 Q136.80,386.2 140.10,355.9Z"/><path d="M145.15,363.7 Q148.45,390.0 145.15,416.4 Q141.85,390.0 145.15,363.7Z"/><path d="M150.20,363.8 Q153.50,388.9 150.20,414.0 Q146.90,388.9 150.20,363.8Z"/><path d="M155.25,359.1 Q158.55,385.8 155.25,412.5 Q151.95,385.8 155.25,359.1Z"/><path d="M160.30,361.3 Q163.60,386.8 160.30,412.3 Q157.00,386.8 160.30,361.3Z"/><path d="M165.35,354.8 Q168.65,383.9 165.35,413.0 Q162.05,383.9 165.35,354.8Z"/><path d="M170.40,355.5 Q173.70,384.6 170.40,413.7 Q167.10,384.6 170.40,355.5Z"/><path d="M175.45,354.0 Q178.75,383.0 175.45,412.0 Q172.15,383.0 175.45,354.0Z"/><path d="M180.50,354.8 Q183.80,383.6 180.50,412.5 Q177.20,383.6 180.50,354.8Z"/><path d="M185.55,356.8 Q188.85,384.5 185.55,412.1 Q182.25,384.5 185.55,356.8Z"/><path d="M190.60,362.1 Q193.90,388.6 190.60,415.1 Q187.30,388.6 190.60,362.1Z"/><path d="M195.65,353.8 Q198.95,383.5 195.65,413.3 Q192.35,383.5 195.65,353.8Z"/><path d="M200.70,355.7 Q204.00,384.7 200.70,413.8 Q197.40,384.7 200.70,355.7Z"/><path d="M205.75,352.9 Q209.05,384.6 205.75,416.2 Q202.45,384.6 205.75,352.9Z"/><path d="M210.80,362.1 Q214.10,388.2 210.80,414.3 Q207.50,388.2 210.80,362.1Z"/><path d="M215.85,356.2 Q219.15,384.3 215.85,412.4 Q212.55,384.3 215.85,356.2Z"/><path d="M220.90,351.7 Q224.20,382.7 220.90,413.7 Q217.60,382.7 220.90,351.7Z"/><path d="M225.95,353.2 Q229.25,384.7 225.95,416.1 Q222.65,384.7 225.95,353.2Z"/><path d="M231.00,351.7 Q234.30,381.9 231.00,412.1 Q227.70,381.9 231.00,351.7Z"/><path d="M236.05,360.2 Q239.35,387.4 236.05,414.6 Q232.75,387.4 236.05,360.2Z"/><path d="M241.10,351.1 Q244.40,382.9 241.10,414.7 Q237.80,382.9 241.10,351.1Z"/><path d="M246.15,349.5 Q249.45,382.1 246.15,414.6 Q242.85,382.1 246.15,349.5Z"/><path d="M251.20,359.7 Q254.50,388.0 251.20,416.3 Q247.90,388.0 251.20,359.7Z"/><path d="M256.25,356.3 Q259.55,384.8 256.25,413.3 Q252.95,384.8 256.25,356.3Z"/><path d="M261.30,352.5 Q264.60,382.7 261.30,412.8 Q258.00,382.7 261.30,352.5Z"/><path d="M266.35,356.7 Q269.65,385.7 266.35,414.7 Q263.05,385.7 266.35,356.7Z"/><path d="M271.40,356.5 Q274.70,385.1 271.40,413.6 Q268.10,385.1 271.40,356.5Z"/><path d="M276.45,350.1 Q279.75,383.1 276.45,416.1 Q273.15,383.1 276.45,350.1Z"/><path d="M281.50,358.3 Q284.80,387.3 281.50,416.3 Q278.20,387.3 281.50,358.3Z"/><path d="M286.55,356.0 Q289.85,386.1 286.55,416.1 Q283.25,386.1 286.55,356.0Z"/><path d="M291.60,355.1 Q294.90,384.1 291.60,413.1 Q288.30,384.1 291.60,355.1Z"/><path d="M296.65,352.4 Q299.95,383.1 296.65,413.8 Q293.35,383.1 296.65,352.4Z"/><path d="M301.70,346.7 Q305.00,379.4 301.70,412.1 Q298.40,379.4 301.70,346.7Z"/><path d="M306.75,349.2 Q310.05,381.3 306.75,413.3 Q303.45,381.3 306.75,349.2Z"/><path d="M311.80,353.5 Q315.10,385.2 311.80,416.8 Q308.50,385.2 311.80,353.5Z"/><path d="M316.85,350.6 Q320.15,383.6 316.85,416.7 Q313.55,383.6 316.85,350.6Z"/><path d="M321.90,356.3 Q325.20,386.5 321.90,416.8 Q318.60,386.5 321.90,356.3Z"/><path d="M326.95,349.2 Q330.25,381.1 326.95,413.1 Q323.65,381.1 326.95,349.2Z"/><path d="M332.00,347.2 Q335.30,380.1 332.00,413.0 Q328.70,380.1 332.00,347.2Z"/><path d="M337.05,346.3 Q340.35,380.7 337.05,415.1 Q333.75,380.7 337.05,346.3Z"/><path d="M342.10,353.2 Q345.40,384.6 342.10,415.9 Q338.80,384.6 342.10,353.2Z"/><path d="M347.15,347.9 Q350.45,381.1 347.15,414.3 Q343.85,381.1 347.15,347.9Z"/><path d="M352.20,350.7 Q355.50,380.7 352.20,410.8 Q348.90,380.7 352.20,350.7Z"/><path d="M357.25,348.5 Q360.55,381.4 357.25,414.2 Q353.95,381.4 357.25,348.5Z"/><path d="M362.30,349.1 Q365.60,380.9 362.30,412.8 Q359.00,380.9 362.30,349.1Z"/><path d="M367.35,345.0 Q370.65,377.1 367.35,409.2 Q364.05,377.1 367.35,345.0Z"/><path d="M372.40,347.7 Q375.70,378.3 372.40,408.8 Q369.10,378.3 372.40,347.7Z"/><path d="M377.45,347.2 Q380.75,378.7 377.45,410.3 Q374.15,378.7 377.45,347.2Z"/><path d="M382.50,341.9 Q385.80,373.7 382.50,405.6 Q379.20,373.7 382.50,341.9Z"/><path d="M387.55,346.9 Q390.85,376.2 387.55,405.5 Q384.25,376.2 387.55,346.9Z"/><path d="M392.60,337.4 Q395.90,369.2 392.60,401.0 Q389.30,369.2 392.60,337.4Z"/><path d="M397.65,336.1 Q400.95,369.9 397.65,403.7 Q394.35,369.9 397.65,336.1Z"/><path d="M402.70,342.3 Q406.00,370.5 402.70,398.8 Q399.40,370.5 402.70,342.3Z"/><path d="M407.75,341.5 Q411.05,371.7 407.75,401.8 Q404.45,371.7 407.75,341.5Z"/><path d="M412.80,338.7 Q416.10,368.1 412.80,397.4 Q409.50,368.1 412.80,338.7Z"/><path d="M417.85,336.5 Q421.15,365.8 417.85,395.2 Q414.55,365.8 417.85,336.5Z"/><path d="M422.90,329.8 Q426.20,364.2 422.90,398.6 Q419.60,364.2 422.90,329.8Z"/><path d="M427.95,336.2 Q431.25,366.0 427.95,395.8 Q424.65,366.0 427.95,336.2Z"/><path d="M433.00,338.7 Q436.30,366.8 433.00,394.9 Q429.70,366.8 433.00,338.7Z"/><path d="M438.05,337.4 Q441.35,366.9 438.05,396.3 Q434.75,366.9 438.05,337.4Z"/><path d="M443.10,329.5 Q446.40,361.2 443.10,392.9 Q439.80,361.2 443.10,329.5Z"/><path d="M448.15,329.8 Q451.45,361.1 448.15,392.4 Q444.85,361.1 448.15,329.8Z"/><path d="M453.20,332.5 Q456.50,362.2 453.20,392.0 Q449.90,362.2 453.20,332.5Z"/><path d="M458.25,330.0 Q461.55,360.4 458.25,390.8 Q454.95,360.4 458.25,330.0Z"/><path d="M463.30,334.8 Q466.60,363.2 463.30,391.5 Q460.00,363.2 463.30,334.8Z"/><path d="M468.35,329.2 Q471.65,360.8 468.35,392.3 Q465.05,360.8 468.35,329.2Z"/><path d="M473.40,333.9 Q476.70,362.5 473.40,391.1 Q470.10,362.5 473.40,333.9Z"/><path d="M478.45,333.9 Q481.75,362.5 478.45,391.1 Q475.15,362.5 478.45,333.9Z"/><path d="M483.50,329.5 Q486.80,360.2 483.50,390.9 Q480.20,360.2 483.50,329.5Z"/><path d="M488.55,323.7 Q491.85,356.9 488.55,390.1 Q485.25,356.9 488.55,323.7Z"/><path d="M493.60,325.3 Q496.90,356.4 493.60,387.5 Q490.30,356.4 493.60,325.3Z"/><path d="M498.65,332.0 Q501.95,360.0 498.65,388.0 Q495.35,360.0 498.65,332.0Z"/><path d="M503.70,328.2 Q507.00,359.3 503.70,390.3 Q500.40,359.3 503.70,328.2Z"/><path d="M508.75,329.0 Q512.05,358.4 508.75,387.8 Q505.45,358.4 508.75,329.0Z"/><path d="M513.80,328.5 Q517.10,358.4 513.80,388.4 Q510.50,358.4 513.80,328.5Z"/><path d="M518.85,331.2 Q522.15,358.4 518.85,385.6 Q515.55,358.4 518.85,331.2Z"/><path d="M523.90,328.6 Q527.20,357.2 523.90,385.9 Q520.60,357.2 523.90,328.6Z"/><path d="M528.95,325.4 Q532.25,356.7 528.95,388.0 Q525.65,356.7 528.95,325.4Z"/><path d="M534.00,327.8 Q537.30,357.1 534.00,386.4 Q530.70,357.1 534.00,327.8Z"/><path d="M539.05,330.4 Q542.35,359.0 539.05,387.7 Q535.75,359.0 539.05,330.4Z"/><path d="M544.10,326.9 Q547.40,356.4 544.10,385.9 Q540.80,356.4 544.10,326.9Z"/><path d="M549.15,327.6 Q552.45,356.4 549.15,385.3 Q545.85,356.4 549.15,327.6Z"/><path d="M554.20,329.6 Q557.50,357.2 554.20,384.8 Q550.90,357.2 554.20,329.6Z"/><path d="M559.25,327.9 Q562.55,356.3 559.25,384.7 Q555.95,356.3 559.25,327.9Z"/><path d="M564.30,332.4 Q567.60,359.0 564.30,385.7 Q561.00,359.0 564.30,332.4Z"/><path d="M569.35,331.6 Q572.65,359.2 569.35,386.7 Q566.05,359.2 569.35,331.6Z"/><path d="M574.40,324.9 Q577.70,354.8 574.40,384.7 Q571.10,354.8 574.40,324.9Z"/><path d="M579.45,332.4 Q582.75,359.1 579.45,385.9 Q576.15,359.1 579.45,332.4Z"/><path d="M584.50,323.5 Q587.80,352.8 584.50,382.1 Q581.20,352.8 584.50,323.5Z"/><path d="M589.55,326.9 Q592.85,354.3 589.55,381.7 Q586.25,354.3 589.55,326.9Z"/><path d="M594.60,324.6 Q597.90,353.1 594.60,381.5 Q591.30,353.1 594.60,324.6Z"/><path d="M599.65,329.4 Q602.95,357.1 599.65,384.9 Q596.35,357.1 599.65,329.4Z"/><path d="M604.70,331.9 Q608.00,356.9 604.70,381.9 Q601.40,356.9 604.70,331.9Z"/><path d="M609.75,329.9 Q613.05,357.3 609.75,384.6 Q606.45,357.3 609.75,329.9Z"/><path d="M614.80,323.6 Q618.10,354.7 614.80,385.9 Q611.50,354.7 614.80,323.6Z"/><path d="M619.85,332.6 Q623.15,357.7 619.85,382.8 Q616.55,357.7 619.85,332.6Z"/><path d="M624.90,332.9 Q628.20,358.4 624.90,383.8 Q621.60,358.4 624.90,332.9Z"/><path d="M629.95,328.2 Q633.25,357.6 629.95,386.9 Q626.65,357.6 629.95,328.2Z"/><path d="M635.00,332.4 Q638.30,357.7 635.00,383.0 Q631.70,357.7 635.00,332.4Z"/><path d="M640.05,328.4 Q643.35,356.7 640.05,384.9 Q636.75,356.7 640.05,328.4Z"/><path d="M645.10,327.8 Q648.40,355.7 645.10,383.5 Q641.80,355.7 645.10,327.8Z"/><path d="M650.15,328.0 Q653.45,357.1 650.15,386.3 Q646.85,357.1 650.15,328.0Z"/><path d="M655.20,325.1 Q658.50,355.4 655.20,385.6 Q651.90,355.4 655.20,325.1Z"/><path d="M660.25,330.2 Q663.55,356.7 660.25,383.1 Q656.95,356.7 660.25,330.2Z"/><path d="M665.30,329.4 Q668.60,358.3 665.30,387.2 Q662.00,358.3 665.30,329.4Z"/><path d="M670.35,331.8 Q673.65,358.6 670.35,385.4 Q667.05,358.6 670.35,331.8Z"/><path d="M675.40,337.5 Q678.70,363.7 675.40,390.0 Q672.10,363.7 675.40,337.5Z"/><path d="M680.45,337.7 Q683.75,362.7 680.45,387.6 Q677.15,362.7 680.45,337.7Z"/><path d="M685.50,330.5 Q688.80,359.4 685.50,388.3 Q682.20,359.4 685.50,330.5Z"/><path d="M690.55,336.6 Q693.85,363.5 690.55,390.5 Q687.25,363.5 690.55,336.6Z"/><path d="M695.60,330.0 Q698.90,361.1 695.60,392.2 Q692.30,361.1 695.60,330.0Z"/><path d="M700.65,339.1 Q703.95,367.2 700.65,395.2 Q697.35,367.2 700.65,339.1Z"/><path d="M705.70,332.4 Q709.00,362.7 705.70,392.9 Q702.40,362.7 705.70,332.4Z"/><path d="M710.75,340.2 Q714.05,368.1 710.75,396.0 Q707.45,368.1 710.75,340.2Z"/><path d="M715.80,338.3 Q719.10,366.4 715.80,394.6 Q712.50,366.4 715.80,338.3Z"/><path d="M720.85,331.8 Q724.15,365.2 720.85,398.6 Q717.55,365.2 720.85,331.8Z"/><path d="M725.90,336.9 Q729.20,366.7 725.90,396.5 Q722.60,366.7 725.90,336.9Z"/><path d="M730.95,343.5 Q734.25,371.9 730.95,400.4 Q727.65,371.9 730.95,343.5Z"/><path d="M736.00,343.0 Q739.30,370.8 736.00,398.6 Q732.70,370.8 736.00,343.0Z"/><path d="M741.05,344.6 Q744.35,372.1 741.05,399.5 Q737.75,372.1 741.05,344.6Z"/><path d="M746.10,345.7 Q749.40,374.1 746.10,402.5 Q742.80,374.1 746.10,345.7Z"/><path d="M751.15,340.9 Q754.45,372.4 751.15,404.0 Q747.85,372.4 751.15,340.9Z"/><path d="M756.20,347.9 Q759.50,375.8 756.20,403.6 Q752.90,375.8 756.20,347.9Z"/><path d="M761.25,339.8 Q764.55,372.8 761.25,405.9 Q757.95,372.8 761.25,339.8Z"/><path d="M766.30,341.6 Q769.60,373.2 766.30,404.8 Q763.00,373.2 766.30,341.6Z"/><path d="M771.35,341.3 Q774.65,373.4 771.35,405.5 Q768.05,373.4 771.35,341.3Z"/><path d="M776.40,342.4 Q779.70,375.1 776.40,407.8 Q773.10,375.1 776.40,342.4Z"/><path d="M781.45,344.1 Q784.75,377.6 781.45,411.0 Q778.15,377.6 781.45,344.1Z"/><path d="M786.50,344.6 Q789.80,377.4 786.50,410.3 Q783.20,377.4 786.50,344.6Z"/><path d="M791.55,343.9 Q794.85,377.1 791.55,410.2 Q788.25,377.1 791.55,343.9Z"/><path d="M796.60,342.8 Q799.90,376.6 796.60,410.3 Q793.30,376.6 796.60,342.8Z"/><path d="M801.65,343.4 Q804.95,378.4 801.65,413.4 Q798.35,378.4 801.65,343.4Z"/><path d="M806.70,350.0 Q810.00,380.6 806.70,411.3 Q803.40,380.6 806.70,350.0Z"/><path d="M811.75,349.9 Q815.05,382.8 811.75,415.6 Q808.45,382.8 811.75,349.9Z"/><path d="M816.80,346.5 Q820.10,381.1 816.80,415.7 Q813.50,381.1 816.80,346.5Z"/><path d="M821.85,350.8 Q825.15,382.6 821.85,414.5 Q818.55,382.6 821.85,350.8Z"/><path d="M826.90,355.9 Q830.20,385.0 826.90,414.0 Q823.60,385.0 826.90,355.9Z"/><path d="M831.95,353.0 Q835.25,384.2 831.95,415.4 Q828.65,384.2 831.95,353.0Z"/><path d="M837.00,359.0 Q840.30,386.4 837.00,413.7 Q833.70,386.4 837.00,359.0Z"/><path d="M842.05,358.0 Q845.35,386.8 842.05,415.5 Q838.75,386.8 842.05,358.0Z"/><path d="M847.10,356.6 Q850.40,385.3 847.10,414.0 Q843.80,385.3 847.10,356.6Z"/><path d="M852.15,354.4 Q855.45,383.3 852.15,412.3 Q848.85,383.3 852.15,354.4Z"/><path d="M857.20,353.4 Q860.50,382.9 857.20,412.4 Q853.90,382.9 857.20,353.4Z"/><path d="M862.25,361.6 Q865.55,387.4 862.25,413.3 Q858.95,387.4 862.25,361.6Z"/><path d="M867.30,356.6 Q870.60,384.5 867.30,412.4 Q864.00,384.5 867.30,356.6Z"/><path d="M872.35,365.5 Q875.65,390.9 872.35,416.4 Q869.05,390.9 872.35,365.5Z"/><path d="M877.40,364.5 Q880.70,388.9 877.40,413.4 Q874.10,388.9 877.40,364.5Z"/><path d="M882.45,359.9 Q885.75,386.7 882.45,413.5 Q879.15,386.7 882.45,359.9Z"/><path d="M887.50,362.5 Q890.80,387.6 887.50,412.8 Q884.20,387.6 887.50,362.5Z"/><path d="M892.55,362.5 Q895.85,387.9 892.55,413.3 Q889.25,387.9 892.55,362.5Z"/><path d="M897.60,368.3 Q900.90,392.6 897.60,416.9 Q894.30,392.6 897.60,368.3Z"/><path d="M902.65,363.9 Q905.95,388.6 902.65,413.2 Q899.35,388.6 902.65,363.9Z"/><path d="M907.70,368.7 Q911.00,391.1 907.70,413.5 Q904.40,391.1 907.70,368.7Z"/><path d="M912.75,362.1 Q916.05,387.1 912.75,412.0 Q909.45,387.1 912.75,362.1Z"/><path d="M917.80,362.6 Q921.10,388.5 917.80,414.4 Q914.50,388.5 917.80,362.6Z"/><path d="M922.85,364.1 Q926.15,388.5 922.85,413.0 Q919.55,388.5 922.85,364.1Z"/><path d="M927.90,364.2 Q931.20,388.1 927.90,412.0 Q924.60,388.1 927.90,364.2Z"/><path d="M932.95,361.8 Q936.25,387.1 932.95,412.4 Q929.65,387.1 932.95,361.8Z"/><path d="M938.00,363.4 Q941.30,387.8 938.00,412.2 Q934.70,387.8 938.00,363.4Z"/><path d="M943.05,359.4 Q946.35,386.5 943.05,413.5 Q939.75,386.5 943.05,359.4Z"/><path d="M948.10,361.9 Q951.40,388.4 948.10,414.9 Q944.80,388.4 948.10,361.9Z"/><path d="M953.15,365.3 Q956.45,390.5 953.15,415.8 Q949.85,390.5 953.15,365.3Z"/><path d="M958.20,366.9 Q961.50,391.2 958.20,415.6 Q954.90,391.2 958.20,366.9Z"/><path d="M963.25,369.5 Q966.55,391.7 963.25,413.9 Q959.95,391.7 963.25,369.5Z"/><path d="M968.30,363.6 Q971.60,390.2 968.30,416.9 Q965.00,390.2 968.30,363.6Z"/><path d="M973.35,361.8 Q976.65,388.7 973.35,415.6 Q970.05,388.7 973.35,361.8Z"/><path d="M978.40,367.4 Q981.70,389.8 978.40,412.2 Q975.10,389.8 978.40,367.4Z"/><path d="M983.45,369.7 Q986.75,393.1 983.45,416.5 Q980.15,393.1 983.45,369.7Z"/><path d="M988.50,367.5 Q991.80,391.6 988.50,415.7 Q985.20,391.6 988.50,367.5Z"/><path d="M993.55,369.7 Q996.85,391.2 993.55,412.7 Q990.25,391.2 993.55,369.7Z"/><path d="M998.60,366.7 Q1001.90,390.6 998.60,414.5 Q995.30,390.6 998.60,366.7Z"/></g>
<path d="M859,367.0 C863.8,364.0 876.8,350.2 888,348.79999999999995 C899.2,347.4 919.7,356.8 926,358.4" fill="none" stroke="#ecec5a" stroke-width="4.2" stroke-linecap="round" opacity="0.75"/>
<path d="M78,380.7 C83.7,380.6 102.3,381.8 112,380 C121.7,378.2 129.3,371.4 136,370 C142.7,368.6 145.7,373.1 152,371.5 C158.3,369.9 166.8,360.4 174,360.7 C181.2,360.9 188.0,373.4 195,373 C202.0,372.6 209.3,358.7 216,358 C222.7,357.3 229.5,365.5 235,369 C240.5,372.5 243.0,379.0 249,379 C255.0,379.0 259.3,366.7 271,369 C282.7,371.3 306.2,391.0 319,393 C331.8,395.0 340.7,382.3 348,381 C355.3,379.7 356.8,387.4 363,385 C369.2,382.6 377.9,366.9 385,366.6 C392.1,366.3 399.2,382.1 405.7,383 C412.2,383.9 417.6,371.5 424,371.8 C430.4,372.1 437.7,382.8 444,385 C450.3,387.2 455.8,383.2 462,385 C468.2,386.8 473.7,396.1 481,396 C488.3,395.9 496.6,383.9 506,384.4 C515.4,384.9 528.8,398.6 537.5,399 C546.2,399.4 551.9,387.8 558.5,386.6 C565.1,385.4 568.2,394.6 577,391.8 C585.8,389.0 599.9,370.7 611,369.6 C622.1,368.5 633.3,385.1 643.6,385 C653.9,384.9 664.4,370.1 673,368.8 C681.6,367.5 688.8,375.3 695,377 C701.2,378.7 701.2,382.2 710,379 C718.8,375.8 738.2,359.3 748,357.7 C757.8,356.1 762.2,369.8 769,369.6 C775.8,369.4 782.5,357.1 789,356.3 C795.5,355.5 801.3,365.6 808,365 C814.7,364.4 822.0,353.3 829,352.6 C836.0,351.9 845.0,358.8 850,360.8 C855.0,362.8 852.7,367.0 859,364.6 C865.3,362.2 876.8,347.8 888,346.4 C899.2,345.0 914.7,352.8 926,356 C937.3,359.2 947.2,365.6 956,365.6 C964.8,365.6 971.7,357.9 979,356 C986.3,354.1 996.5,354.3 1000,354" fill="none" stroke="#5a5d30" stroke-width="2.7" stroke-linecap="round"/>
<path d="M78,380.7 C83.7,380.6 102.3,381.8 112,380 C121.7,378.2 129.3,371.4 136,370 C142.7,368.6 145.7,373.1 152,371.5 C158.3,369.9 166.8,360.4 174,360.7 C181.2,360.9 188.0,373.4 195,373 C202.0,372.6 209.3,358.7 216,358 C222.7,357.3 229.5,365.5 235,369 C240.5,372.5 243.0,379.0 249,379 C255.0,379.0 259.3,366.7 271,369 C282.7,371.3 306.2,391.0 319,393 C331.8,395.0 340.7,382.3 348,381 C355.3,379.7 356.8,387.4 363,385 C369.2,382.6 377.9,366.9 385,366.6 C392.1,366.3 399.2,382.1 405.7,383 C412.2,383.9 417.6,371.5 424,371.8 C430.4,372.1 437.7,382.8 444,385 C450.3,387.2 455.8,383.2 462,385 C468.2,386.8 473.7,396.1 481,396 C488.3,395.9 496.6,383.9 506,384.4 C515.4,384.9 528.8,398.6 537.5,399 C546.2,399.4 551.9,387.8 558.5,386.6 C565.1,385.4 568.2,394.6 577,391.8 C585.8,389.0 599.9,370.7 611,369.6 C622.1,368.5 633.3,385.1 643.6,385 C653.9,384.9 664.4,370.1 673,368.8 C681.6,367.5 688.8,375.3 695,377 C701.2,378.7 701.2,382.2 710,379 C718.8,375.8 738.2,359.3 748,357.7 C757.8,356.1 762.2,369.8 769,369.6 C775.8,369.4 782.5,357.1 789,356.3 C795.5,355.5 801.3,365.6 808,365 C814.7,364.4 822.0,353.3 829,352.6 C836.0,351.9 845.0,358.8 850,360.8 C855.0,362.8 852.7,367.0 859,364.6 C865.3,362.2 876.8,347.8 888,346.4 C899.2,345.0 914.7,352.8 926,356 C937.3,359.2 947.2,365.6 956,365.6 C964.8,365.6 971.7,357.9 979,356 C986.3,354.1 996.5,354.3 1000,354" fill="none" stroke="#f2f044" stroke-width="1.5" stroke-linecap="round"/>
</g>
<line x1="210" y1="326" x2="210" y2="418" stroke="#334" stroke-width="0.75"/>
<line x1="217.5" y1="326" x2="217.5" y2="418" stroke="#778" stroke-width="0.75"/>
<line x1="474" y1="326" x2="474" y2="418" stroke="#556" stroke-width="0.75"/>
<line x1="537.3" y1="326" x2="537.3" y2="418" stroke="#445" stroke-width="0.75"/>
<line x1="676.6" y1="326" x2="676.6" y2="418" stroke="#556" stroke-width="0.75"/>
<line x1="737.6" y1="326" x2="737.6" y2="418" stroke="#445" stroke-width="0.75"/>
<line x1="888.3" y1="326" x2="888.3" y2="418" stroke="#889" stroke-width="0.75"/>
<line x1="33" y1="325.8" x2="1018.5" y2="325.8" stroke="#2a2a2a" stroke-width="1.4"/>
<line x1="33" y1="418.3" x2="1018.5" y2="418.3" stroke="#1d2233" stroke-width="1.5"/>
<line x1="933.5" y1="314" x2="933.5" y2="344.8" stroke="#1a1a2a" stroke-width="1"/>
<line x1="966.3" y1="314" x2="966.3" y2="362" stroke="#1a1a2a" stroke-width="1"/>
<line x1="998.1" y1="314" x2="998.1" y2="365" stroke="#1a1a2a" stroke-width="1"/>
<text x="62.5" y="321.7" font-size="12.3" text-anchor="end" fill="#1a1a1a">12 m/s</text>
<text x="62.5" y="338.8" font-size="12.3" text-anchor="end" fill="#1a1a1a">40° C</text>
<text x="62.5" y="414.6" font-size="12.3" text-anchor="end" fill="#1a1a1a">6 m/s</text>
<text x="62.5" y="431.6" font-size="12.3" text-anchor="end" fill="#1a1a1a">0°C</text>
<text x="1023.5" y="330.4" font-size="12.8" fill="#1a1a1a">80%</text>
<text x="1023.5" y="423" font-size="12.8" fill="#1a1a1a">40%</text>
<text transform="translate(934.5,313.5) rotate(-35)" font-size="9.5" font-weight="bold" fill="#6f92dc">Wind Speed</text>
<text transform="translate(965.5,310.5) rotate(-31)" font-size="9.2" font-weight="bold" fill="#e6e650" stroke="#e8e85a" stroke-width="1.4">Humidity</text>
<text transform="translate(999.5,313.5) rotate(-35)" font-size="9.5" font-weight="bold" fill="#ea8e96">Temperature</text>
<line x1="338" y1="256" x2="473" y2="326" stroke="#555" stroke-width="0.75"/><line x1="338" y1="256" x2="677" y2="326" stroke="#555" stroke-width="0.75"/><line x1="601.6" y1="256" x2="737.5" y2="326" stroke="#555" stroke-width="0.75"/><line x1="765.5" y1="256" x2="737.5" y2="326" stroke="#555" stroke-width="0.75"/><line x1="929.6" y1="256" x2="737.5" y2="326" stroke="#555" stroke-width="0.75"/><line x1="211" y1="418" x2="171" y2="524" stroke="#555" stroke-width="0.75"/><line x1="211" y1="418" x2="338" y2="524" stroke="#555" stroke-width="0.75"/><line x1="211" y1="418" x2="503" y2="524" stroke="#555" stroke-width="0.75"/><line x1="537.3" y1="418" x2="805" y2="524" stroke="#555" stroke-width="0.75"/><line x1="888.3" y1="418" x2="967.4" y2="524" stroke="#555" stroke-width="0.75"/>
</svg>
</body></html>
